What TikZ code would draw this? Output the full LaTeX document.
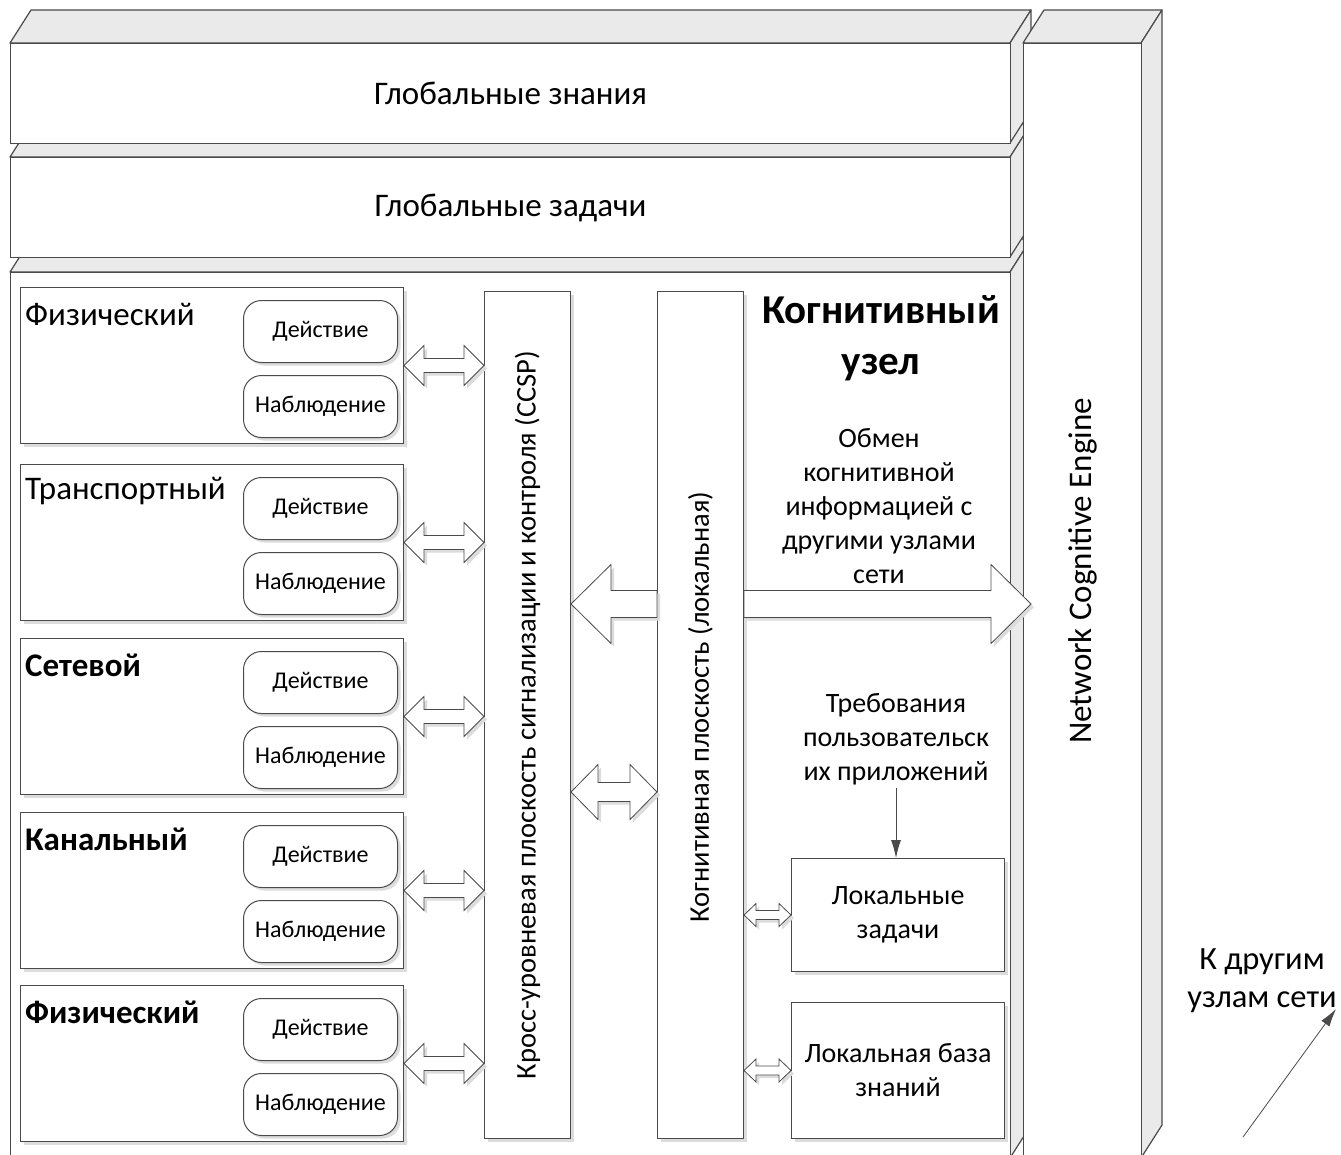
\documentclass[tikz,border=0pt]{standalone}
\usepackage{fontspec}
\setmainfont{Carlito}
\usetikzlibrary{calc,shadows,arrows.meta}
\definecolor{ln}{HTML}{4A4A4A}
\definecolor{face}{HTML}{EAEAEA}
\definecolor{shd}{HTML}{DCDCDC}
\newcommand\fsz[2]{\fontsize{#1}{#2}\selectfont}
\tikzset{
  box/.style={draw=ln, line width=1pt, fill=white, inner sep=0pt, anchor=north west},
  shadowed/.style={general shadow={fill=shd, shadow xshift=3pt, shadow yshift=-3pt}},
  layerbox/.style={box, shadowed, minimum width=383pt, minimum height=156pt},
  rbox/.style={box, shadowed, rounded corners=18pt, minimum width=154pt, minimum height=62pt},
  lname/.style={anchor=west, inner sep=0pt},
  planebox/.style={box, shadowed, minimum width=86pt, minimum height=847pt},
  locbox/.style={box, shadowed, minimum width=213pt},
  arr/.style={draw=ln, line width=0.8pt, fill=white, shadowed},
  face3d/.style={draw=ln, line width=1.2pt, fill=face, line join=round},
  front3d/.style={draw=ln, line width=1.2pt, fill=white, inner sep=0pt, anchor=north west},
  ptr/.style={draw=ln, line width=0.9pt, -{Latex[length=18pt,width=10pt]}},
  smalltxt/.style={font=\fsz{24}{28}},
  bigtxt/.style={font=\fsz{33}{38}},
  midtxt/.style={font=\fsz{28}{34}, align=center}
}
% 3D box: name, x1, y1 (front top-left), width, height
\newcommand\threed[5]{%
  \fill[face3d] (#2,#3) -- ++(21,-33) -- ++(#4,0) -- ++(-21,33) -- cycle;
  \fill[face3d] (#2+#4,#3) -- ++(21,-33) -- ++(0,#5) -- ++(-21,33) -- cycle;
  \node[front3d, minimum width=#4 pt, minimum height=#5 pt] (#1) at (#2,#3) {};
}
% double block arrow between two points at the same height
\newcommand\dblarrow[5]{%
  \draw[arr] let \p1=(#1), \p2=(#2) in
    (\x1,\y1) -- (\x1+#5,\y1+#3) -- (\x1+#5,\y1+#4) -- (\x2-#5,\y1+#4)
    -- (\x2-#5,\y1+#3) -- (\x2,\y1) -- (\x2-#5,\y1-#3) -- (\x2-#5,\y1-#4)
    -- (\x1+#5,\y1-#4) -- (\x1+#5,\y1-#3) -- cycle;}
% block arrow pointing left: tip #1, tail #2
\newcommand\leftarrowblk[5]{%
  \draw[arr] let \p1=(#1), \p2=(#2) in
    (\x1,\y1) -- (\x1+#5,\y1+#3) -- (\x1+#5,\y1+#4) -- (\x2,\y1+#4)
    -- (\x2,\y1-#4) -- (\x1+#5,\y1-#4) -- (\x1+#5,\y1-#3) -- cycle;}
% block arrow pointing right: tail #1, tip #2
\newcommand\rightarrowblk[5]{%
  \draw[arr] let \p1=(#1), \p2=(#2) in
    (\x2,\y2) -- (\x2-#5,\y2+#3) -- (\x2-#5,\y2+#4) -- (\x1,\y2+#4)
    -- (\x1,\y2-#4) -- (\x2-#5,\y2-#4) -- (\x2-#5,\y2-#3) -- cycle;}
% layer: name, top y, label, font
\newcommand\layer[4]{%
  \node[layerbox] (#1) at (20,#2) {};
  \node[lname, font={#4}] (#1n) at ($(#1.north west)+(5,27)$) {#3};
  \node[rbox] (#1a) at ($(#1.north west)+(223,13)$) {};
  \node[smalltxt] (#1at) at (#1a.center) {Действие};
  \node[rbox] (#1o) at ($(#1.north west)+(223,88)$) {};
  \node[smalltxt] (#1ot) at (#1o.center) {Наблюдение};
  \dblarrow{#1.east}{ccsp.west |- #1.east}{20pt}{7pt}{20pt}
}
\begin{document}
\begin{tikzpicture}[x=1pt,y=-1pt]
\useasboundingbox (0,0) rectangle (1341,1154);
\clip (0,0) rectangle (1341,1154);
\fill[white] (0,0) rectangle (1341,1154);

% 3D slabs
\threed{cn}{10}{272}{1000}{886}
\threed{gt}{10}{157}{1000}{100}
\node[bigtxt] (gtt) at (gt.center) {Глобальные задачи};
\threed{gk}{10}{43}{1000}{100}
\node[bigtxt] (gkt) at (gk.center) {Глобальные знания};
\threed{nce}{1023}{43}{118}{1115}
\node[bigtxt, rotate=90] (ncet) at (1083,571) {Network Cognitive Engine};

% planes
\node[planebox] (ccsp) at (484,291) {};
\node[rotate=90, font=\fsz{28.5}{32}] (ccspt) at (ccsp.center) {Кросс-уровневая плоскость сигнализации и контроля (CCSP)};
\node[planebox] (cog) at (657,291) {};
\node[rotate=90, font=\fsz{28.5}{32}] (cogt) at ($(cog.center)+(0,-8)$) {Когнитивная плоскость (локальная)};

% layers
\layer{la}{287}{Физический}{\fsz{33}{38}}
\layer{lb}{464}{Транспортный}{\fsz{33}{38}}
\layer{lc}{638}{Сетевой}{\fsz{33}{38}\bfseries}
\layer{ld}{812}{Канальный}{\fsz{33}{38}\bfseries}
\layer{le}{985}{Физический}{\fsz{33}{38}\bfseries}

% local boxes
\node[locbox, minimum height=113pt] (lt) at (791,858) {};
\node[midtxt] (ltt) at (lt.center) {Локальные\\задачи};
\node[locbox, minimum height=136pt] (lk) at (791,1002) {};
\node[midtxt] (lkt) at (lk.center) {Локальная база\\знаний};

% block arrows between planes and beyond
\coordinate (ay) at (0,604);
\leftarrowblk{ccsp.east |- ay}{cog.west |- ay}{39.5pt}{13.5pt}{40pt}
\coordinate (tipr) at (1031,604);
\rightarrowblk{cog.east |- ay}{tipr}{39.5pt}{13.5pt}{40pt}
\coordinate (ay2) at (0,792);
\dblarrow{ccsp.east |- ay2}{cog.west |- ay2}{27.5pt}{9.5pt}{27pt}
\dblarrow{cog.east |- lt.west}{lt.west}{11.5pt}{4.5pt}{12pt}
\dblarrow{cog.east |- lk.west}{lk.west}{11.5pt}{4.5pt}{12pt}

% texts
\node[font=\fsz{41}{51}\bfseries, align=center] (cnt) at (881,338) {Когнитивный\\узел};
\node[midtxt] (xch) at (879,506) {Обмен\\когнитивной\\информацией с\\другими узлами\\сети};
\node[midtxt] (req) at (896,739) {Требования\\пользовательск\\их приложений};
\draw[ptr] (req.south) -- (lt.north -| req.south);

\node[font=\fsz{32.5}{38}, align=center] (kd) at (1262,981) {К другим\\узлам сети};
\coordinate (ks) at (1243,1137);
\coordinate (ke) at (1336,1009);
\draw[ptr, line width=0.8pt] (ks) -- (ke);
\end{tikzpicture}
\end{document}
